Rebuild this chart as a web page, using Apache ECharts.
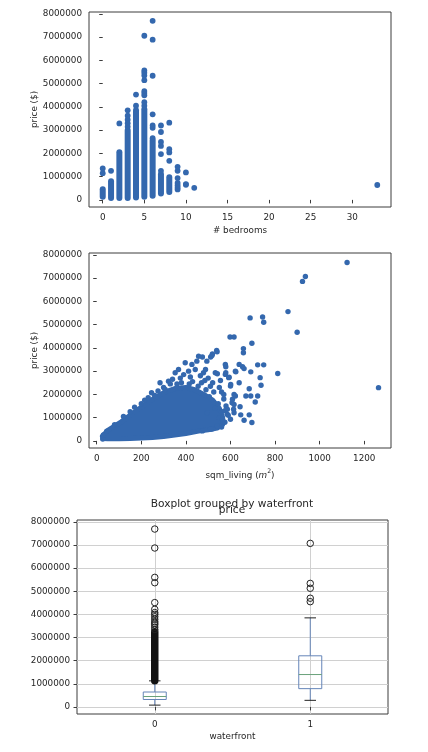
<!DOCTYPE html>
<html><head><meta charset="utf-8">
<script src="https://cdn.jsdelivr.net/npm/echarts@6/dist/echarts.min.js"></script>
<style>html,body{margin:0;padding:0;background:#fff}#c{width:428px;height:752px}</style>
</head><body><div id="c"></div>
<script>
// ---------------- data ----------------
const priceTicks = [0,1000000,2000000,3000000,4000000,5000000,6000000,7000000,8000000];
const bedroomTicks = [0,5,10,15,20,25,30];
const sqmTicks = [0,200,400,600,800,1000,1200];
const waterfrontTicks = ['0','1'];
const waterfrontPositions = [1,2];

// panel 1: dense (overlapping) price ranges per bedroom count [bedrooms, low, high]
const bedroomDense = [
  [0,140000,460000],[1,80000,800000],[2,80000,2050000],[3,82000,3000000],
  [4,100000,3850000],[5,130000,3900000],[6,175000,2550000],[7,280000,1100000],[8,340000,970000]
];
// panel 1: individual points [bedrooms, price]
const bedroomPoints = [
  [0,1350000],[0,1150000],
  [1,1250000],
  [2,3290000],
  [3,3150000],[3,3300000],[3,3450000],[3,3620000],[3,3850000],
  [4,4050000],[4,4530000],
  [5,4050000],[5,4200000],[5,4500000],[5,4600000],[5,4680000],[5,5150000],[5,5350000],[5,5470000],[5,5570000],[5,7060000],
  [6,2650000],[6,3100000],[6,3200000],[6,3680000],[6,5340000],[6,6890000],[6,7700000],
  [7,1250000],[7,1970000],[7,2320000],[7,2490000],[7,2920000],[7,3200000],
  [8,1680000],[8,2040000],[8,2180000],[8,3320000],
  [9,450000],[9,530000],[9,620000],[9,730000],[9,940000],[9,1250000],[9,1420000],
  [10,650000],[10,680000],[10,1180000],
  [11,520000],
  [33,640000]
];

// panel 2: outline of the solid core of points [sqm, price]
const sqmCore = [
  [25,200000],[50,450000],[110,820000],[185,1350000],[230,1650000],[260,1850000],[305,2100000],
  [350,2250000],[400,2300000],[440,2200000],[480,2000000],[520,1750000],[550,1400000],[565,1000000],
  [565,700000],[540,550000],[500,480000],[457,420000],[400,320000],[350,250000],[300,190000],
  [250,150000],[200,120000],[150,100000],[100,90000],[50,90000],[28,100000]
];
// panel 2: individual points [sqm, price]
const sqmPoints = [
  [27,80000],[30,250000],[45,420000],[80,700000],[120,1050000],[150,1250000],[170,1450000],[200,1600000],
  [215,1750000],[231,1860000],[246,2070000],[260,1950000],[275,2150000],[284,2500000],[300,2300000],
  [307,2210000],[322,2570000],[330,2450000],[340,2650000],[352,2930000],[360,2450000],[367,3070000],
  [375,2700000],[380,2500000],[390,2850000],[397,3360000],[412,3000000],[415,2450000],[420,2750000],
  [427,3290000],[430,2550000],[442,3070000],[449,3430000],[455,2350000],[457,3640000],[465,2800000],
  [470,2500000],[474,3610000],[479,2930000],[485,2600000],[488,3070000],[490,2200000],[494,3430000],
  [500,2700000],[505,1900000],[510,2350000],[511,3610000],[517,3670000],[519,3740000],[520,2500000],
  [525,2100000],[532,2930000],[538,3890000],[540,3830000],[541,2890000],[545,1600000],[550,2300000],
  [555,2600000],[560,2100000],[560,1250000],[570,1800000],[570,2000000],[575,1300000],[580,1500000],
  [585,1150000],[590,1100000],[575,800000],[560,600000],[520,520000],[550,1000000],[530,1400000],
  [541,640000],[511,500000],[474,430000],[496,1210000],[564,930000],[577,3290000],[577,2860000],
  [579,3190000],[579,2930000],[586,1360000],[592,2720000],[594,2740000],[598,4470000],[600,2360000],
  [600,930000],[601,2430000],[607,1640000],[609,1790000],[614,1360000],[616,4470000],[616,2000000],
  [616,1570000],[616,1210000],[622,3000000],[622,1930000],[624,2970000],[639,3290000],[639,2500000],
  [643,1470000],[646,1120000],[654,3190000],[658,3970000],[658,3790000],[661,3110000],[661,890000],
  [669,1930000],[684,2240000],[684,1120000],[688,5290000],[691,2970000],[691,1930000],[696,4200000],
  [696,790000],[711,1670000],[722,3270000],[722,1930000],[733,2720000],[737,2390000],[744,5330000],
  [749,5100000],[749,3270000],[812,2900000],[858,5560000],[899,4670000],[923,6860000],[936,7070000],
  [1123,7670000],[1264,2290000]
];

// panel 3: boxplot statistics [min, Q1, median, Q3, max] per waterfront group
const boxStats = [
  [78000,321000,450000,645000,1127000],
  [285000,790000,1400000,2210000,3850000]
];
// panel 3: dense run of outliers [position, low, high]
const boxOutlierDense = [[1,1130000,3250000]];
// panel 3: individual outliers [position, price]
const boxOutliers = [
  [1,3350000],[1,3450000],[1,3550000],[1,3620000],[1,3690000],[1,3790000],[1,3900000],[1,4000000],
  [1,4080000],[1,4220000],[1,4510000],[1,5370000],[1,5600000],[1,6870000],[1,7690000],
  [2,4550000],[2,4700000],[2,5130000],[2,5340000],[2,7070000]
];

// ---------------- chart ----------------
const font = 'DejaVu Sans';
const txt = '#262626';
const spine = '#3c3c3c';
const blue = '#3468ae';
const boxBlue = '#6585b8';
const medGreen = '#6aa27a';
const fs = 8.8;

function yAxis(gridIndex, name) {
  return {
    type: 'value', gridIndex, min: -306000, max: 8081000,
    axisLine: {show: false},
    axisTick: {show: true, length: 3.5, lineStyle: {color: spine}, customValues: priceTicks},
    axisLabel: {customValues: priceTicks, formatter: v => String(Math.round(v)), color: txt, fontFamily: font, fontSize: fs, margin: 7},
    splitLine: {show: gridIndex === 2, lineStyle: {color: '#d0d0d0', width: 1}},
    name: name || '', nameLocation: 'middle', nameGap: 50, nameRotate: 90, nameMoveOverlap: false,
    nameTextStyle: {color: txt, fontFamily: font, fontSize: fs}
  };
}
function xAxis(gridIndex, min, max, ticks, name, extra) {
  return Object.assign({
    type: 'value', gridIndex, min, max,
    axisLine: {show: false},
    axisTick: {show: true, length: 3.5, lineStyle: {color: spine}, customValues: ticks},
    axisLabel: {customValues: ticks, formatter: v => String(Math.round(v)), color: txt, fontFamily: font, fontSize: fs, margin: 6},
    splitLine: {show: false},
    name, nameLocation: 'middle', nameGap: 19, nameMoveOverlap: false,
    nameTextStyle: {color: txt, fontFamily: font, fontSize: fs}
  }, extra || {});
}

const rangeRender = (w, color) => (params, api) => {
  const x = api.value(0), lo = api.value(1), hi = api.value(2);
  const top = api.coord([x, hi]), bot = api.coord([x, lo]);
  return {type: 'rect', shape: {x: top[0] - w / 2, y: top[1] - w / 2, width: w, height: bot[1] - top[1] + w, r: w / 2},
          style: {fill: color}};
};

const boxData = boxStats.map((s, i) => [waterfrontPositions[i]].concat(s));

const option = {
  animation: false,
  backgroundColor: '#fff',
  grid: [
    {left: 89, top: 12, width: 302, height: 195, show: true, borderColor: spine, borderWidth: 1, backgroundColor: 'transparent'},
    {left: 89, top: 253, width: 302, height: 195, show: true, borderColor: spine, borderWidth: 1, backgroundColor: 'transparent'},
    {left: 77, top: 520, width: 311, height: 194, show: true, borderColor: spine, borderWidth: 1, backgroundColor: 'transparent'}
  ],
  xAxis: [
    xAxis(0, -1.65, 34.65, bedroomTicks, '# bedrooms', {nameGap: 19}),
    xAxis(1, -34.6, 1320, sqmTicks, '{n|sqm_living (}{i|m}{s|2}{n|)}', {
      nameGap: 20,
      nameTextStyle: {color: txt, fontFamily: font, fontSize: fs, rich: {
        n: {fontFamily: font, fontSize: fs, color: txt, lineHeight: 12, verticalAlign: 'bottom'},
        i: {fontFamily: font, fontSize: fs, color: txt, fontStyle: 'italic', lineHeight: 12, verticalAlign: 'bottom'},
        s: {fontFamily: font, fontSize: 6.2, color: txt, lineHeight: 12, verticalAlign: 'top'}
      }}
    }),
    xAxis(2, 0.5, 2.5, waterfrontPositions, 'waterfront', {
      nameGap: 18,
      axisLabel: {customValues: waterfrontPositions, formatter: v => waterfrontTicks[Math.round(v) - 1], color: txt, fontFamily: font, fontSize: fs, margin: 6},
      splitLine: {show: true, lineStyle: {color: '#d0d0d0', width: 1}}
    })
  ],
  yAxis: [yAxis(0, 'price ($)'), yAxis(1, 'price ($)'), yAxis(2, '')],
  graphic: [
    {type: 'text', x: 232, y: 504, style: {text: 'Boxplot grouped by waterfront', fill: txt, font: '10.6px "DejaVu Sans"', textAlign: 'center', textVerticalAlign: 'middle'}},
    {type: 'text', x: 232, y: 510, style: {text: 'price', fill: txt, font: '10.6px "DejaVu Sans"', textAlign: 'center', textVerticalAlign: 'middle'}}
  ],
  series: [
    {type: 'custom', xAxisIndex: 0, yAxisIndex: 0, data: bedroomDense, encode: {x: 0, y: [1, 2]},
     renderItem: rangeRender(6, blue), clip: true},
    {type: 'scatter', xAxisIndex: 0, yAxisIndex: 0, data: bedroomPoints, symbolSize: 5.8,
     itemStyle: {color: blue, opacity: 1}},
    {type: 'custom', xAxisIndex: 1, yAxisIndex: 1, data: sqmCore, encode: {x: 0, y: 1}, clip: true,
     renderItem: (params, api) => {
       if (params.dataIndex !== 0) return null;
       const pts = sqmCore.map(p => api.coord(p));
       return {type: 'polygon', shape: {points: pts}, style: {fill: blue, stroke: blue, lineWidth: 5, lineJoin: 'round'}};
     }},
    {type: 'scatter', xAxisIndex: 1, yAxisIndex: 1, data: sqmPoints, symbolSize: 5.4,
     itemStyle: {color: blue, opacity: 1}},
    {type: 'custom', xAxisIndex: 2, yAxisIndex: 2, data: boxData, encode: {x: 0, y: [1, 2, 3, 4, 5]}, clip: true,
     renderItem: (params, api) => {
       const x = api.value(0);
       const c = v => api.coord([x, v]);
       const pMin = c(api.value(1)), pQ1 = c(api.value(2)), pMd = c(api.value(3)), pQ3 = c(api.value(4)), pMx = c(api.value(5));
       const cx = pMin[0], bw = 23, cw = 11.5;
       const ln = (x1, y1, x2, y2, color) => ({type: 'line', shape: {x1, y1, x2, y2}, style: {stroke: color, lineWidth: 1}});
       return {type: 'group', children: [
         ln(cx, pQ1[1], cx, pMin[1], boxBlue),
         ln(cx, pQ3[1], cx, pMx[1], boxBlue),
         ln(cx - cw / 2, pMin[1], cx + cw / 2, pMin[1], '#222'),
         ln(cx - cw / 2, pMx[1], cx + cw / 2, pMx[1], '#222'),
         {type: 'rect', shape: {x: cx - bw / 2, y: pQ3[1], width: bw, height: pQ1[1] - pQ3[1]}, style: {fill: 'none', stroke: boxBlue, lineWidth: 1}},
         ln(cx - bw / 2, pMd[1], cx + bw / 2, pMd[1], medGreen)
       ]};
     }},
    {type: 'custom', xAxisIndex: 2, yAxisIndex: 2, data: boxOutlierDense, encode: {x: 0, y: [1, 2]},
     renderItem: rangeRender(7.5, '#111'), clip: true},
    {type: 'scatter', xAxisIndex: 2, yAxisIndex: 2, data: boxOutliers, symbol: 'circle', symbolSize: 6.5,
     itemStyle: {color: 'rgba(255,255,255,0)', borderColor: '#222', borderWidth: 1, opacity: 1}}
  ]
};
const chart = echarts.init(document.getElementById('c'), null, {renderer: 'canvas'});
chart.setOption(option);
</script>
</body></html>
